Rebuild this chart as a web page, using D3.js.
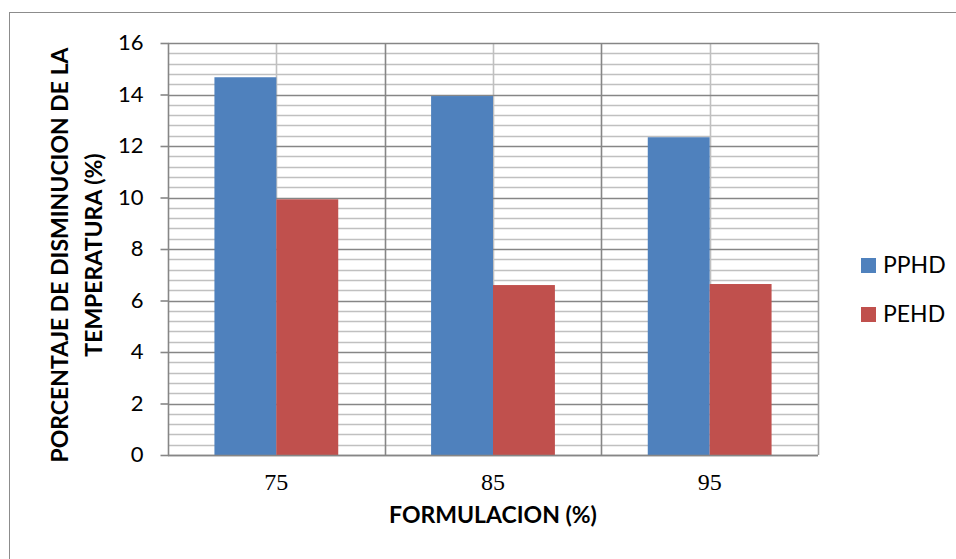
<!DOCTYPE html>
<html>
<head>
<meta charset="utf-8">
<script src="https://cdn.jsdelivr.net/npm/d3@7"></script>
<style>
  html, body { margin: 0; padding: 0; background: #fff; }
  svg { display: block; }
</style>
</head>
<body>
<svg id="chart" width="956" height="559"></svg>
<script>
// Data
const categories = ["75", "85", "95"];
const seriesNames = ["PPHD", "PEHD"];
const pphd = [14.67, 13.94, 12.34];
const pehd = [9.93, 6.6, 6.64];
const yTicks = [0, 2, 4, 6, 8, 10, 12, 14, 16];

const colors = { PPHD: "#4f81bd", PEHD: "#c0504d" };
const uiFont = "Lato, 'Open Sans', sans-serif";

const svg = d3.select("#chart");
const W = 956, H = 559;
const m = { left: 168, top: 43, right: 818, bottom: 455 };

// Outer chart frame
svg.append("rect")
  .attr("x", 9.5).attr("y", 12.5)
  .attr("width", W + 20).attr("height", H + 20)
  .attr("fill", "#fff").attr("stroke", "#8c8c8c").attr("stroke-width", 1);

const x = d3.scaleBand().domain(categories).range([m.left, m.right]).paddingInner(0).paddingOuter(0);
const y = d3.scaleLinear().domain([0, 16]).range([m.bottom, m.top]);
const sub = d3.scaleBand().domain(seriesNames).range([0, x.bandwidth()]).paddingInner(0).paddingOuter(0.75);

const g = svg.append("g");

// Minor horizontal grid
const minor = d3.range(0, 16.001, 0.4).filter(v => Math.abs(v / 2 - Math.round(v / 2)) > 1e-6);
g.selectAll("line.minor").data(minor).join("line")
  .attr("x1", m.left).attr("x2", m.right)
  .attr("y1", d => Math.round(y(d)) + 0.5).attr("y2", d => Math.round(y(d)) + 0.5)
  .attr("stroke", "#c0c0c0").attr("stroke-width", 1.6);

// Vertical grid at category centres (light) and boundaries (dark)
g.selectAll("line.vc").data(categories).join("line")
  .attr("x1", d => Math.round(x(d) + x.bandwidth() / 2) + 0.5)
  .attr("x2", d => Math.round(x(d) + x.bandwidth() / 2) + 0.5)
  .attr("y1", m.top).attr("y2", m.bottom)
  .attr("stroke", "#c0c0c0").attr("stroke-width", 1.6);
g.selectAll("line.vb").data(categories.slice(1)).join("line")
  .attr("x1", d => Math.round(x(d)) + 0.5).attr("x2", d => Math.round(x(d)) + 0.5)
  .attr("y1", m.top).attr("y2", m.bottom)
  .attr("stroke", "#868686").attr("stroke-width", 1.6);

// Major horizontal grid
g.selectAll("line.major").data(yTicks).join("line")
  .attr("x1", m.left).attr("x2", m.right)
  .attr("y1", d => Math.round(y(d)) + 0.5).attr("y2", d => Math.round(y(d)) + 0.5)
  .attr("stroke", "#868686").attr("stroke-width", 1.6);

// Right plot edge
g.append("line")
  .attr("x1", m.right + 0.5).attr("x2", m.right + 0.5)
  .attr("y1", m.top).attr("y2", m.bottom)
  .attr("stroke", "#a0a0a0").attr("stroke-width", 1.6);

// Bars
const rows = categories.map((c, i) => ({ c, PPHD: pphd[i], PEHD: pehd[i] }));
const grp = g.selectAll("g.cat").data(rows).join("g")
  .attr("transform", d => `translate(${x(d.c)},0)`);
grp.selectAll("rect").data(d => seriesNames.map(s => ({ s, v: d[s] }))).join("rect")
  .attr("x", d => sub(d.s))
  .attr("width", sub.bandwidth())
  .attr("y", d => y(d.v))
  .attr("height", d => y(0) - y(d.v))
  .attr("fill", d => colors[d.s]);

// Y axis
const yAxis = d3.axisLeft(y).tickValues(yTicks).tickSize(8).tickPadding(17).tickFormat(d3.format("d"));
const ya = svg.append("g").attr("transform", `translate(${m.left + 0.5},0)`).call(yAxis);
ya.select(".domain").attr("stroke", "#868686").attr("stroke-width", 1.6).attr("d", `M0,${m.top}V${m.bottom}`);
ya.selectAll(".tick line").attr("stroke", "#868686").attr("stroke-width", 1.6);
ya.selectAll(".tick text").attr("font-family", uiFont).attr("font-size", 22).attr("fill", "#000").attr("dy", "0.3em");

// X axis
const xAxis = d3.axisBottom(x).tickSize(0).tickPadding(17);
const xa = svg.append("g").attr("transform", `translate(0,${Math.round(m.bottom) + 0.5})`).call(xAxis);
xa.select(".domain").attr("stroke", "#868686").attr("stroke-width", 1.6).attr("d", `M${m.left},0H${m.right}`);
xa.selectAll(".tick text").attr("font-family", "'Liberation Serif', 'Times New Roman', serif").attr("font-size", 24).attr("fill", "#000");

// Axis titles
svg.append("text")
  .attr("x", 493).attr("y", 523)
  .attr("text-anchor", "middle")
  .attr("font-family", uiFont).attr("font-weight", "bold").attr("font-size", 23)
  .text("FORMULACION (%)");

const yt = svg.append("text")
  .attr("transform", "translate(0,255) rotate(-90)")
  .attr("text-anchor", "middle")
  .attr("font-family", uiFont).attr("font-weight", "bold").attr("font-size", 23);
yt.append("tspan").attr("x", 0).attr("y", 68).text("PORCENTAJE DE DISMINUCION DE LA");
yt.append("tspan").attr("x", 0).attr("y", 102).text("TEMPERATURA (%)");

// Legend
const legend = svg.append("g");
seriesNames.forEach((s, i) => {
  const ly = 258 + i * 49;
  legend.append("rect").attr("x", 861).attr("y", ly).attr("width", 15).attr("height", 15).attr("fill", colors[s]);
  legend.append("text").attr("x", 883).attr("y", ly + 15)
    .attr("font-family", uiFont).attr("font-size", 23).attr("fill", "#000").text(s);
});
</script>
</body>
</html>
